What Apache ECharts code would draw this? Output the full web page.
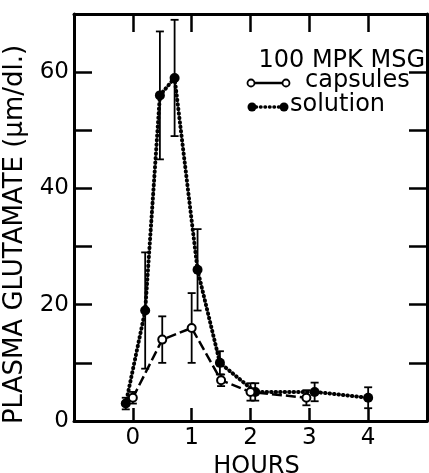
<!DOCTYPE html>
<html>
<head>
<meta charset="utf-8">
<script src="https://cdn.jsdelivr.net/npm/echarts@6/dist/echarts.min.js"></script>
<style>
html,body{margin:0;padding:0;background:#fff;}
#chart{width:429px;height:473px;}
</style>
</head>
<body>
<div id="chart"></div>
<script>
// ---- data ----
const capsulesHours = [0.0, 0.5, 1.0, 1.5, 2.0, 2.95];
const capsulesValue = [4, 14, 16, 7, 5, 4];
const capsulesErr   = [1, 4, 6, 1, 1.5, 1.3];

const solutionHours = [-0.12, 0.21, 0.46, 0.71, 1.1, 1.48, 2.08, 3.09, 4.0];
const solutionValue = [3, 19, 56, 59, 26, 10, 5, 5, 4];
const solutionErr   = [1, 10, 11, 10, 7, 2, 1.5, 1.6, 1.8];

const xTickValues = [0, 1, 2, 3, 4];
const xTickLabels = ['0', '1', '2', '3', '4'];
const yTickValues = [0, 20, 40, 60];
const yTickLabels = ['0', '20', '40', '60'];

const titleText = '100 MPK MSG';
const seriesNames = ['capsules', 'solution'];
const xName = 'HOURS';
const yName = 'PLASMA GLUTAMATE (\u00b5m/dl.)';

// ---- build ----
const FONT = 'DejaVu Sans';
const pts = (xs, ys) => xs.map((x, i) => [x, ys[i]]);
const errs = (xs, ys, es) => xs.map((x, i) => [x, ys[i] - es[i], ys[i] + es[i]]);

function errRender(params, api) {
  const x = api.value(0), lo = api.value(1), hi = api.value(2);
  const a = api.coord([x, lo]), b = api.coord([x, hi]);
  const w = 4;
  const st = {stroke: '#000', lineWidth: 1.8};
  return {type: 'group', children: [
    {type: 'line', shape: {x1: a[0], y1: a[1], x2: b[0], y2: b[1]}, style: st},
    {type: 'line', shape: {x1: a[0] - w, y1: a[1], x2: a[0] + w, y2: a[1]}, style: st},
    {type: 'line', shape: {x1: b[0] - w, y1: b[1], x2: b[0] + w, y2: b[1]}, style: st}
  ]};
}

const axisLine = {show: true, onZero: false, lineStyle: {color: '#000', width: 3}};
const xLabelFmt = v => { const i = xTickValues.indexOf(v); return i >= 0 ? xTickLabels[i] : ''; };
const yLabelFmt = v => { const i = yTickValues.indexOf(v); return i >= 0 ? yTickLabels[i] : ''; };

const chart = echarts.init(document.getElementById('chart'), null, {renderer: 'canvas'});
chart.setOption({
  animation: false,
  backgroundColor: '#fff',
  grid: {left: 74, right: 2, top: 14, bottom: 52, containLabel: false, outerBoundsMode: 'none'},
  xAxis: [
    {type: 'value', min: -1, max: 5, interval: 1, position: 'bottom',
     axisLine: axisLine, splitLine: {show: false},
     axisTick: {inside: true, length: 13, lineStyle: {color: '#000', width: 2.5}},
     axisLabel: {formatter: xLabelFmt, color: '#000', fontFamily: FONT, fontSize: 23, margin: 6},
     name: xName, nameLocation: 'middle', nameGap: 28,
     nameTextStyle: {color: '#000', fontFamily: FONT, fontSize: 24, padding: [0, 0, 0, 12]}},
    {type: 'value', min: -1, max: 5, interval: 1, position: 'top',
     axisLine: axisLine, splitLine: {show: false},
     axisTick: {inside: true, length: 18, lineStyle: {color: '#000', width: 2.5}},
     axisLabel: {show: false}}
  ],
  yAxis: [
    {type: 'value', min: 0, max: 70, interval: 10, position: 'left',
     axisLine: axisLine, splitLine: {show: false},
     axisTick: {inside: true, length: 18, lineStyle: {color: '#000', width: 2.5}},
     axisLabel: {formatter: yLabelFmt, color: '#000', fontFamily: FONT, fontSize: 23, margin: 5},
     name: yName, nameLocation: 'middle', nameGap: 46, nameRotate: 90,
     nameTextStyle: {color: '#000', fontFamily: FONT, fontSize: 26, padding: [0, 34, 0, 0]}},
    {type: 'value', min: 0, max: 70, interval: 10, position: 'right',
     axisLine: axisLine, splitLine: {show: false},
     axisTick: {inside: true, length: 18, lineStyle: {color: '#000', width: 2.5}},
     axisLabel: {show: false}}
  ],
  series: [
    {name: seriesNames[1] + ' SEM', type: 'custom', xAxisIndex: 0, yAxisIndex: 0,
     data: errs(solutionHours, solutionValue, solutionErr), renderItem: errRender,
     encode: {x: 0, y: [1, 2]}, z: 2},
    {name: seriesNames[0] + ' SEM', type: 'custom', xAxisIndex: 0, yAxisIndex: 0,
     data: errs(capsulesHours, capsulesValue, capsulesErr), renderItem: errRender,
     encode: {x: 0, y: [1, 2]}, z: 2},
    {name: seriesNames[1], type: 'line', data: pts(solutionHours, solutionValue),
     symbol: 'circle', symbolSize: 10, itemStyle: {color: '#000'},
     lineStyle: {color: '#000', width: 4, type: [0.5, 4], cap: 'round'}, z: 3},
    {name: seriesNames[0], type: 'line', data: pts(capsulesHours, capsulesValue),
     symbol: 'circle', symbolSize: 8, itemStyle: {color: '#fff', borderColor: '#000', borderWidth: 2},
     lineStyle: {color: '#000', width: 2.5, type: [10, 4]}, z: 4}
  ],
  graphic: [
    {type: 'text', x: 425, y: 61, style: {text: titleText, font: '24px "DejaVu Sans"', fill: '#000',
      textAlign: 'right', textVerticalAlign: 'middle'}},
    // capsules key
    {type: 'line', shape: {x1: 255, y1: 83, x2: 282, y2: 83}, style: {stroke: '#000', lineWidth: 2.5}},
    {type: 'circle', shape: {cx: 251, cy: 83, r: 3.5}, style: {fill: '#fff', stroke: '#000', lineWidth: 1.8}},
    {type: 'circle', shape: {cx: 286, cy: 83, r: 3.5}, style: {fill: '#fff', stroke: '#000', lineWidth: 1.8}},
    {type: 'text', x: 305, y: 81, style: {text: seriesNames[0], font: '24px "DejaVu Sans"', fill: '#000',
      textAlign: 'left', textVerticalAlign: 'middle'}},
    // solution key
    {type: 'line', shape: {x1: 256, y1: 107, x2: 281, y2: 107},
      style: {stroke: '#000', lineWidth: 3.5, lineDash: [0.5, 4], lineCap: 'round'}},
    {type: 'circle', shape: {cx: 252, cy: 107, r: 4.5}, style: {fill: '#000'}},
    {type: 'circle', shape: {cx: 284, cy: 107, r: 4.5}, style: {fill: '#000'}},
    {type: 'text', x: 290, y: 105, style: {text: seriesNames[1], font: '24px "DejaVu Sans"', fill: '#000',
      textAlign: 'left', textVerticalAlign: 'middle'}}
  ]
});
</script>
</body>
</html>
